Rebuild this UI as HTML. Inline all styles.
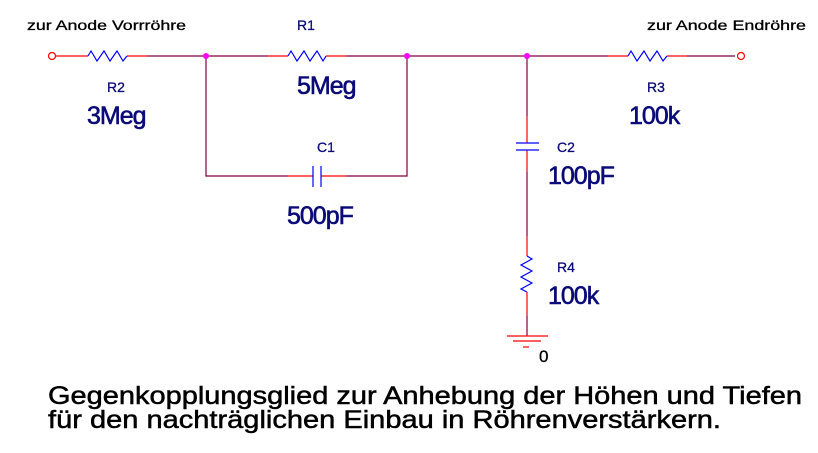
<!DOCTYPE html>
<html><head><meta charset="utf-8"><style>
html,body{margin:0;padding:0;background:#fff;width:818px;height:453px;overflow:hidden}
svg{display:block}
text{font-family:"Liberation Sans",Arial,sans-serif}
.l{fill:#0a0a78;stroke:#0a0a78;stroke-width:0.3;font-size:14px}
.v{fill:#0a0a78;stroke:#0a0a78;stroke-width:0.6;font-size:25px;letter-spacing:-1px}
.k{fill:#000;stroke:#000;stroke-width:0.3;font-size:14px}
.c{fill:#000;stroke:#000;stroke-width:0.5;font-size:25px}
</style></head><body>
<svg width="818" height="453" viewBox="0 0 818 453" xmlns="http://www.w3.org/2000/svg">
<g fill="none" stroke-width="1.2">
<g stroke="#800040">
<line x1="147" y1="56" x2="268" y2="56"/>
<line x1="346" y1="56" x2="608" y2="56"/>
<line x1="687" y1="56" x2="735" y2="56"/>
<polyline points="206,56 206,176 288,176"/>
<polyline points="346,176 407,176 407,56"/>
<line x1="527" y1="56" x2="527" y2="116"/>
<line x1="527" y1="172" x2="527" y2="236"/>
<line x1="527" y1="316" x2="527" y2="336"/>
</g>
<g stroke="#ff0000">
<line x1="56" y1="56" x2="88" y2="56"/>
<line x1="127" y1="56" x2="147" y2="56"/>
<line x1="268" y1="56" x2="288" y2="56"/>
<line x1="326" y1="56" x2="346" y2="56"/>
<line x1="608" y1="56" x2="628" y2="56"/>
<line x1="667" y1="56" x2="687" y2="56"/>
<line x1="288" y1="176" x2="313" y2="176"/>
<line x1="321" y1="176" x2="346" y2="176"/>
<line x1="527" y1="116" x2="527" y2="143"/>
<line x1="527" y1="150" x2="527" y2="172"/>
<line x1="527" y1="236" x2="527" y2="256"/>
<line x1="527" y1="292" x2="527" y2="316"/>
<line x1="507" y1="336" x2="548" y2="336"/>
<line x1="513" y1="341" x2="541" y2="341"/>
<line x1="523" y1="347" x2="529" y2="347"/>
<circle cx="52" cy="56" r="3.5"/>
<circle cx="741" cy="56" r="3.5"/>
</g>
<g stroke="#0000ff">
<polyline points="88,56 91,51 97,61 104,51 110,61 117,51 123,61 127,56"/>
<polyline points="288,56 291,51 297,61 304,51 310,61 317,51 323,61 326,56"/>
<polyline points="628,56 631,51 637,61 644,51 650,61 657,51 663,61 667,56"/>
<polyline points="527,256 532,259 521,265 532,271 521,277 532,283 521,289 527,292"/>
<line x1="313" y1="166" x2="313" y2="187"/>
<line x1="321" y1="166" x2="321" y2="187"/>
<line x1="516" y1="143" x2="539" y2="143"/>
<line x1="516" y1="150" x2="539" y2="150"/>
</g>
</g>
<g fill="#ff00ff">
<circle cx="206" cy="56" r="3"/>
<circle cx="407" cy="56" r="3"/>
<circle cx="527" cy="56" r="3"/>
</g>
<text class="k" x="27" y="30" textLength="159" lengthAdjust="spacingAndGlyphs">zur Anode Vorrröhre</text>
<text class="k" x="647" y="30" textLength="159" lengthAdjust="spacingAndGlyphs">zur Anode Endröhre</text>
<text class="l" x="107" y="92">R2</text>
<text class="v" x="87" y="124">3Meg</text>
<text class="l" x="297" y="30">R1</text>
<text class="v" x="297" y="94">5Meg</text>
<text class="l" x="317" y="152">C1</text>
<text class="v" x="287" y="224">500pF</text>
<text class="l" x="647" y="92">R3</text>
<text class="v" x="629" y="124">100k</text>
<text class="l" x="557" y="152">C2</text>
<text class="v" x="548" y="184">100pF</text>
<text class="l" x="557" y="272">R4</text>
<text class="v" x="548" y="304">100k</text>
<text class="k" x="539" y="362" style="font-size:17px">0</text>
<text class="c" x="48" y="404" textLength="754" lengthAdjust="spacingAndGlyphs">Gegenkopplungsglied zur Anhebung der Höhen und Tiefen</text>
<text class="c" x="48" y="428" textLength="673" lengthAdjust="spacingAndGlyphs">für den nachträglichen Einbau in Röhrenverstärkern.</text>
</svg>
</body></html>
